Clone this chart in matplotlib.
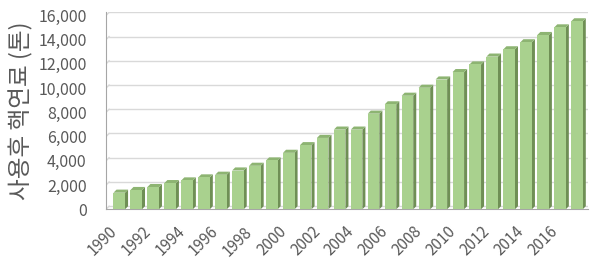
import matplotlib
matplotlib.use('Agg')
import matplotlib.pyplot as plt
import matplotlib.transforms as mtransforms
from matplotlib.patches import Polygon

plt.rcParams['font.family'] = ['Noto Sans CJK KR', 'DejaVu Sans']

years = list(range(1990, 2018))
spent_fuel = [1370, 1590, 1835, 2160, 2380, 2630, 2850, 3200, 3590, 4030,
              4660, 5290, 5890, 6575, 6575, 7890, 8660, 9370, 10030, 10710,
              11320, 11950, 12600, 13200, 13780, 14380, 15010, 15510]
y_ticks = list(range(0, 16001, 2000))
x_labels = [str(y) if y % 2 == 0 else '' for y in years]

front_color = '#a9d18e'
side_color = '#6f8f55'
top_color = '#8db472'
text_color = '#595959'

fig = plt.figure(figsize=(6, 2.7), dpi=100)
ax = fig.add_axes([0.1767, 0.2248, 0.8033, 0.7296])

# 3D offsets (depth) in data units
dx = 0.18
dy = 256
w = 0.68

xs = list(range(len(years)))
ax.set_xlim(-0.6 - dx, len(years) - 0.35)
ax.set_ylim(-dy, 16000)

# back wall gridlines
for t in y_ticks:
    ax.plot([-0.6, len(years) - 0.35], [t, t], color='#d9d9d9', lw=1.0, zorder=1)
    ax.plot([-0.6 - dx, -0.6], [t - dy, t], color='#d9d9d9', lw=1.0, zorder=1)

# front faces
ax.bar(xs, spent_fuel, width=w, bottom=-dy, color=front_color,
       edgecolor='none', zorder=3)
for x, v in zip(xs, spent_fuel):
    right = x + w / 2
    left = x - w / 2
    side = Polygon([(right, -dy), (right + dx, 0), (right + dx, v), (right, v - dy)],
                   closed=True, facecolor=side_color, edgecolor='none', zorder=2)
    top = Polygon([(left, v - dy), (left + dx, v), (right + dx, v), (right, v - dy)],
                  closed=True, facecolor=top_color, edgecolor='none', zorder=2)
    ax.add_patch(side)
    ax.add_patch(top)

for s in ['top', 'right']:
    ax.spines[s].set_visible(False)
ax.spines['left'].set_color('#a6a6a6')
ax.spines['bottom'].set_color('#a6a6a6')

ax.set_yticks(y_ticks)
ax.set_yticklabels([f'{t:,}' for t in y_ticks], fontsize=11.5, color=text_color)
ax.tick_params(axis='y', length=0, pad=14)
offset = mtransforms.ScaledTranslation(0, -3 / 100, fig.dpi_scale_trans)
for lbl in ax.get_yticklabels():
    lbl.set_transform(lbl.get_transform() + offset)

ax.set_xticks(xs)
ax.set_xticklabels(x_labels, fontsize=11, color=text_color, rotation=45,
                   ha='right', rotation_mode='anchor')
ax.tick_params(axis='x', length=0, pad=10)
xoffset = mtransforms.ScaledTranslation(-11 / 100, 0, fig.dpi_scale_trans)
for lbl in ax.get_xticklabels():
    lbl.set_transform(lbl.get_transform() + xoffset)

fig.text(0.035, 0.59, '사용후 핵연료 (톤)', rotation=90, fontsize=17,
         color=text_color, ha='center', va='center')

fig.savefig('out.png', dpi=100)
